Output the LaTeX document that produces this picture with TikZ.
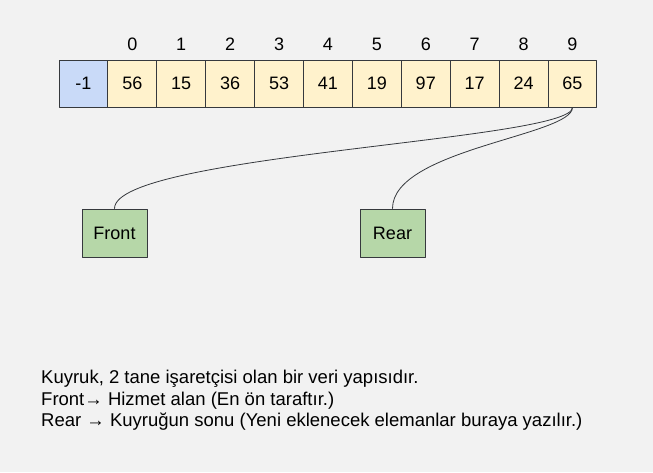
\documentclass[tikz,border=0pt]{standalone}
\usepackage{fontspec}
\setmainfont{Liberation Sans}
\definecolor{bgcol}{HTML}{F2F2F2}
\definecolor{linecol}{HTML}{36393D}
\definecolor{headcol}{HTML}{C9DAF8}
\definecolor{cellcol}{HTML}{FFF2CC}
\definecolor{ptrcol}{HTML}{B6D7A8}
\begin{document}
\begin{tikzpicture}[x=1pt,y=-1pt,line cap=round,line join=round,
  cell/.style={draw=linecol,line width=1pt,fill=cellcol,minimum width=48.9pt,
    minimum height=47pt,inner sep=0pt,font=\fontsize{18}{21}\selectfont},
  idx/.style={inner sep=0pt,font=\fontsize{18}{21}\selectfont},
  ptr/.style={draw=linecol,line width=1pt,fill=ptrcol,minimum width=65pt,
    minimum height=48pt,inner sep=0pt,font=\fontsize{18}{21}\selectfont},
  note/.style={anchor=west,inner sep=0pt,font=\fontsize{18.5}{21}\selectfont}]
  \useasboundingbox[fill=bgcol] (0,0) rectangle (653,472);

  % Array: head cell and the ten slots.
  \node[cell,fill=headcol] (c0) at (83.45,83.5) {-1};
  \foreach \v [count=\i] in {56,15,36,53,41,19,97,17,24,65} {
    \node[cell] (c\i) at (83.45+48.9*\i,83.5) {\v};
    \pgfmathtruncatemacro{\k}{\i-1}
    \node[idx] (i\i) at (83.45+48.9*\i,44) {\k};
  }

  % Pointers.
  \node[ptr] (front) at (114.5,233) {Front};
  \node[ptr] (rear) at (392.5,233) {Rear};
  \draw[linecol,line width=0.8pt] (c10.south) .. controls +(0,33) and +(0,-54) .. (front.north);
  \draw[linecol,line width=0.8pt] (c10.south) .. controls +(0,28) and +(0,-59) .. (rear.north);

  % Notes.
  \node[note] (n1) at (41,379) {Kuyruk, 2 tane işaretçisi olan bir veri yapısıdır.};
  \node[note] (n2) at (41,400.5) {Front→ Hizmet alan (En ön taraftır.)};
  \node[note] (n3) at (41,422) {Rear → Kuyruğun sonu (Yeni eklenecek elemanlar buraya yazılır.)};
\end{tikzpicture}
\end{document}
